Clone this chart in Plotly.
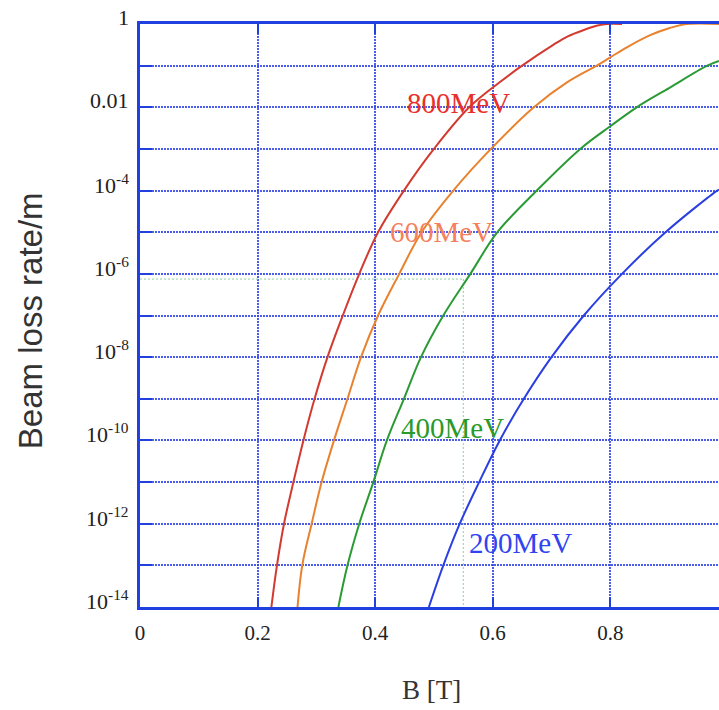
import plotly.graph_objects as go

# ---- data ----
red_B = [0.2235, 0.233, 0.245, 0.261, 0.278, 0.297, 0.319, 0.345, 0.373, 0.405, 0.449, 0.500, 0.560, 0.613, 0.650, 0.703, 0.727, 0.755, 0.780, 0.795, 0.82]
red_v = [1e-14, 1e-13, 1e-12, 1e-11, 1e-10, 1e-9, 1e-8, 1e-7, 1e-6, 1e-5, 1e-4, 1e-3, 1e-2, 0.041, 0.1, 0.316, 0.5, 0.72, 0.93, 1.0, 1.0]

orange_B = [0.268, 0.276, 0.292, 0.309, 0.330, 0.353, 0.376, 0.405, 0.441, 0.479, 0.533, 0.597, 0.670, 0.727, 0.777, 0.800, 0.829, 0.868, 0.900, 0.930, 0.985]
orange_v = [1e-14, 1e-13, 1e-12, 1e-11, 1e-10, 1e-9, 1e-8, 1e-7, 1e-6, 1e-5, 1e-4, 1e-3, 1e-2, 0.04, 0.1, 0.158, 0.28, 0.54, 0.79, 1.0, 1.0]

green_B = [0.3375, 0.353, 0.373, 0.397, 0.420, 0.449, 0.478, 0.516, 0.562, 0.608, 0.675, 0.749, 0.800, 0.845, 0.900, 0.965, 0.985]
green_v = [1e-14, 1e-13, 1e-12, 1e-11, 1e-10, 1e-9, 1e-8, 1e-7, 1e-6, 1e-5, 1e-4, 1e-3, 3.5e-3, 1e-2, 0.029, 0.1, 0.13]

blue_B = [0.4915, 0.516, 0.544, 0.577, 0.612, 0.653, 0.700, 0.755, 0.820, 0.894, 0.982, 0.985]
blue_v = [1e-14, 1e-13, 1e-12, 1e-11, 1e-10, 1e-9, 1e-8, 1e-7, 1e-6, 1e-5, 1e-4, 1.05e-4]

series_names = ["800MeV", "600MeV", "400MeV", "200MeV"]
label_B = [0.541, 0.513, 0.531, 0.647]
label_logv = [-1.90, -5.00, -9.70, -12.46]

ref_B = 0.55
ref_v = 7.5e-7
ymin = 1e-14

x_ticks = [0, 0.2, 0.4, 0.6, 0.8]
x_ticktext = ["0", "0.2", "0.4", "0.6", "0.8"]
y_exps = list(range(0, -15, -1))
y_label_exps = [0, -2, -4, -6, -8, -10, -12, -14]
y_label_text = ["1", "0.01", "10<sup>-4</sup>", "10<sup>-6</sup>", "10<sup>-8</sup>",
                "10<sup>-10</sup>", "10<sup>-12</sup>", "10<sup>-14</sup>"]

line_colors = ["#d23a30", "#e8822e", "#2a9b34", "#2b3fe0"]
label_colors = ["#e8302a", "#f6805e", "#2a9a2a", "#3044f0"]
blue = "#2040e0"
grid_col = "rgba(45,65,230,0.85)"

fig = go.Figure()

# reference dotted green lines
fig.add_trace(go.Scatter(x=[0, ref_B], y=[ref_v, ref_v], mode="lines",
                         line=dict(color="#8fcf9c", width=1, dash="2px,2px"),
                         showlegend=False, hoverinfo="skip"))
fig.add_trace(go.Scatter(x=[ref_B, ref_B], y=[ref_v, ymin], mode="lines",
                         line=dict(color="#8fcf9c", width=1, dash="2px,2px"),
                         showlegend=False, hoverinfo="skip"))

for xs, ys, c, n in zip([red_B, orange_B, green_B, blue_B],
                        [red_v, orange_v, green_v, blue_v],
                        line_colors, series_names):
    fig.add_trace(go.Scatter(x=xs, y=ys, mode="lines", name=n,
                             line=dict(color=c, width=2, shape="spline", smoothing=1.0),
                             showlegend=False))

annotations = []
for n, bx, ly, c in zip(series_names, label_B, label_logv, label_colors):
    annotations.append(dict(x=bx, y=ly, xref="x", yref="y", text=n, showarrow=False,
                            font=dict(family="Liberation Serif", size=29, color=c),
                            xanchor="center", yanchor="middle"))

# y tick labels (drawn slightly above their grid lines, as in the reference)
for e, t in zip(y_label_exps, y_label_text):
    annotations.append(dict(x=0, y=e, xref="paper", yref="y", text=t, showarrow=False,
                            xanchor="right", yanchor="middle", xshift=-9, yshift=7,
                            font=dict(family="Liberation Serif", size=22, color="#222222")))

annotations.append(dict(x=-0.19, y=0.492, xref="paper", yref="paper", text="Beam loss rate/m",
                        textangle=-90, showarrow=False,
                        font=dict(family="Liberation Sans", size=33, color="#333333"),
                        xanchor="center", yanchor="middle"))
annotations.append(dict(x=0.503, y=-0.142, xref="paper", yref="paper", text="B [T]",
                        showarrow=False,
                        font=dict(family="Liberation Serif", size=27, color="#333333"),
                        xanchor="center", yanchor="middle"))

fig.update_layout(
    width=719, height=710,
    margin=dict(l=140, r=0, t=24, b=103),
    paper_bgcolor="white", plot_bgcolor="white",
    annotations=annotations,
    showlegend=False,
)

fig.update_xaxes(
    range=[0, 0.985], tickvals=x_ticks, ticktext=x_ticktext,
    showgrid=True, gridcolor=grid_col, gridwidth=1.5, griddash="2px,1px",
    showline=True, linecolor=blue, linewidth=3, mirror="ticks",
    ticks="inside", ticklen=10, tickwidth=2, tickcolor=blue,
    zeroline=False, ticklabelstandoff=5,
    tickfont=dict(family="Liberation Serif", size=21, color="#222222"),
)
fig.update_yaxes(
    type="log", range=[-14, 0],
    tickvals=[10.0 ** e for e in y_exps], showticklabels=False,
    showgrid=True, gridcolor=grid_col, gridwidth=2, griddash="2px,1px",
    showline=True, linecolor=blue, linewidth=3, mirror=False,
    ticks="inside", ticklen=12, tickwidth=2, tickcolor=blue,
    zeroline=False,
)

fig.write_html("out.html")
